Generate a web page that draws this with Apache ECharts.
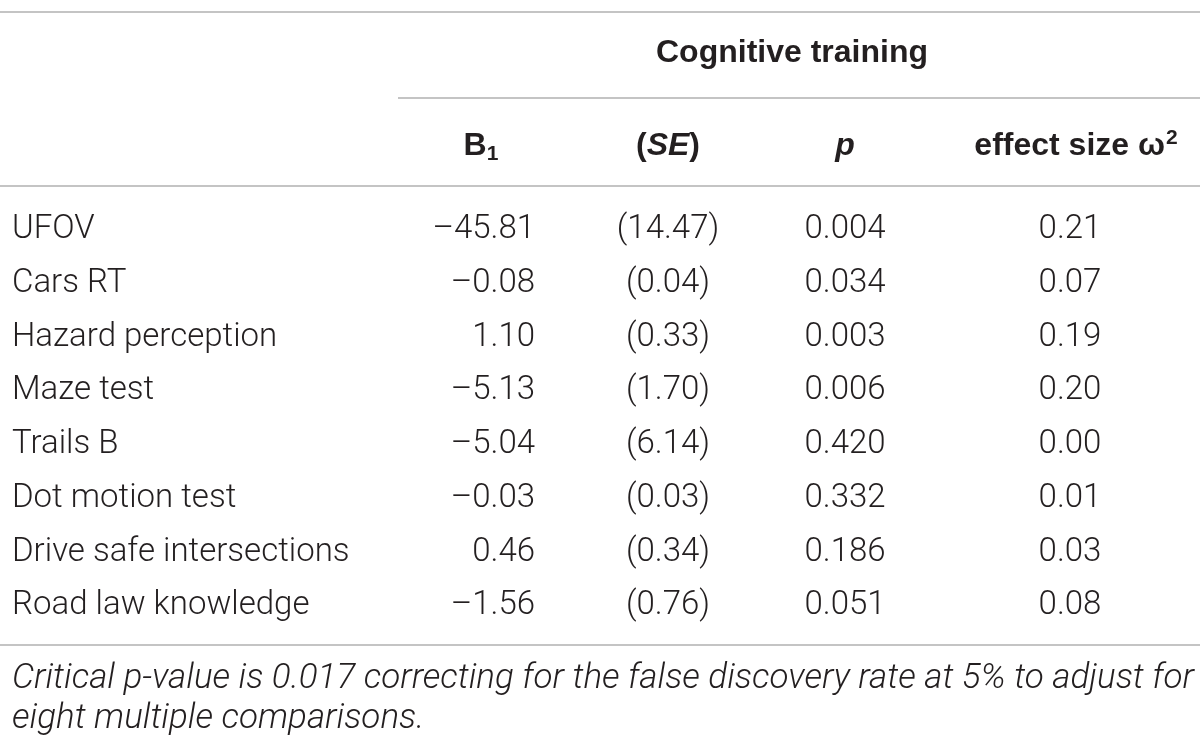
<!DOCTYPE html>
<html>
<head>
    <meta charset="utf-8" />
    <title>Cognitive training</title>
    <script src="https://cdn.jsdelivr.net/npm/echarts@6/dist/echarts.min.js"></script>
    <style>
        html, body { margin: 0; padding: 0; background: #fff; }
    </style>
</head>
<body>
    <div id="main" style="width: 1200px;height:750px;"></div>
    <script type="text/javascript">
        // table data
        const rowLabels = ['UFOV', 'Cars RT', 'Hazard perception', 'Maze test', 'Trails B',
            'Dot motion test', 'Drive safe intersections', 'Road law knowledge'];
        const b1 = [-45.81, -0.08, 1.10, -5.13, -5.04, -0.03, 0.46, -1.56];
        const se = [14.47, 0.04, 0.33, 1.70, 6.14, 0.03, 0.34, 0.76];
        const pValues = [0.004, 0.034, 0.003, 0.006, 0.420, 0.332, 0.186, 0.051];
        const omega2 = [0.21, 0.07, 0.19, 0.20, 0.00, 0.01, 0.03, 0.08];
        const groupTitle = 'Cognitive training';
        const footnote = ['Critical p-value is 0.017 correcting for the false discovery rate at 5% to adjust for',
            'eight multiple comparisons.'];

        // layout
        const BODY = 'Roboto';
        const HEAD = '"Liberation Sans"';
        const SIZE = 33;
        const HSIZE = 32;
        const colX = [12, 535, 668, 845, 1070];
        const colAlign = ['left', 'right', 'center', 'center', 'center'];
        const ruleColor = '#c4c4c4';
        const ink = '#231f20';

        let fmt = function (v, d) {
            let s = Math.abs(v).toFixed(d);
            return v < 0 ? '\u2013' + s : s;
        };

        let cellText = function (c, r) {
            if (c === 0) return rowLabels[r];
            if (c === 1) return fmt(b1[r], 2);
            if (c === 2) return '(' + se[r].toFixed(2) + ')';
            if (c === 3) return pValues[r].toFixed(3);
            return omega2[r].toFixed(2);
        };

        let cells = [];
        rowLabels.forEach((name, r) => {
            for (let c = 0; c < colX.length; c++) cells.push([colX[c], name, c, r]);
        });

        let myChart = echarts.init(document.getElementById('main'));

        let rule = (x1, x2, y) => ({
            type: 'line',
            shape: { x1: x1, y1: y, x2: x2, y2: y },
            style: { stroke: ruleColor, lineWidth: 2 }
        });

        let hdr = (x, y, text, rich) => ({
            type: 'text',
            x: x, y: y,
            style: {
                text: text, align: 'center', verticalAlign: 'middle',
                font: 'bold ' + HSIZE + 'px ' + HEAD, fill: ink,
                rich: rich
            }
        });
        let b = { fontFamily: HEAD, fontWeight: 'bold', fontSize: HSIZE, fill: ink };
        let bi = { fontFamily: HEAD, fontWeight: 'bold', fontStyle: 'italic', fontSize: HSIZE, fill: ink };

        let note = (y, text) => ({
            type: 'text', x: 12, y: y,
            style: { text: text, verticalAlign: 'middle', font: 'italic 300 35px ' + BODY, fill: ink }
        });

        let option = {
            animation: false,
            backgroundColor: '#fff',
            grid: { left: 0, right: 0, top: 203, bottom: 117 },
            xAxis: { type: 'value', min: 0, max: 1200, show: false },
            yAxis: { type: 'category', data: rowLabels, inverse: true, show: false },
            graphic: [
                rule(0, 1200, 12),
                rule(398, 1200, 98),
                rule(0, 1200, 186),
                rule(0, 1200, 645),
                hdr(792, 53, groupTitle),
                hdr(481, 146, '{b|B}{sub|1}', {
                    b: b,
                    sub: { fontFamily: HEAD, fontWeight: 'bold', fontSize: 21, fill: ink, padding: [16, 0, 0, 0] }
                }),
                hdr(668, 146, '{b|(}{i|SE}{b|)}', { b: b, i: bi }),
                hdr(845, 146, '{i|p}', { i: bi }),
                hdr(1076, 146, '{b|effect size ω}{sup|2}', {
                    b: b,
                    sup: { fontFamily: HEAD, fontWeight: 'bold', fontSize: 21, fill: ink, padding: [0, 0, 16, 1] }
                }),
                note(679, footnote[0]),
                note(719, footnote[1])
            ],
            series: [{
                type: 'custom',
                data: cells,
                renderItem: function (params, api) {
                    let c = api.value(2), r = api.value(3);
                    let pt = api.coord([api.value(0), api.value(1)]);
                    return {
                        type: 'text',
                        x: pt[0], y: pt[1],
                        style: {
                            text: cellText(c, r),
                            align: colAlign[c], verticalAlign: 'middle',
                            font: '300 ' + SIZE + 'px ' + BODY, fill: ink
                        }
                    };
                }
            }]
        };
        myChart.setOption(option);
    </script>
</body>
</html>
